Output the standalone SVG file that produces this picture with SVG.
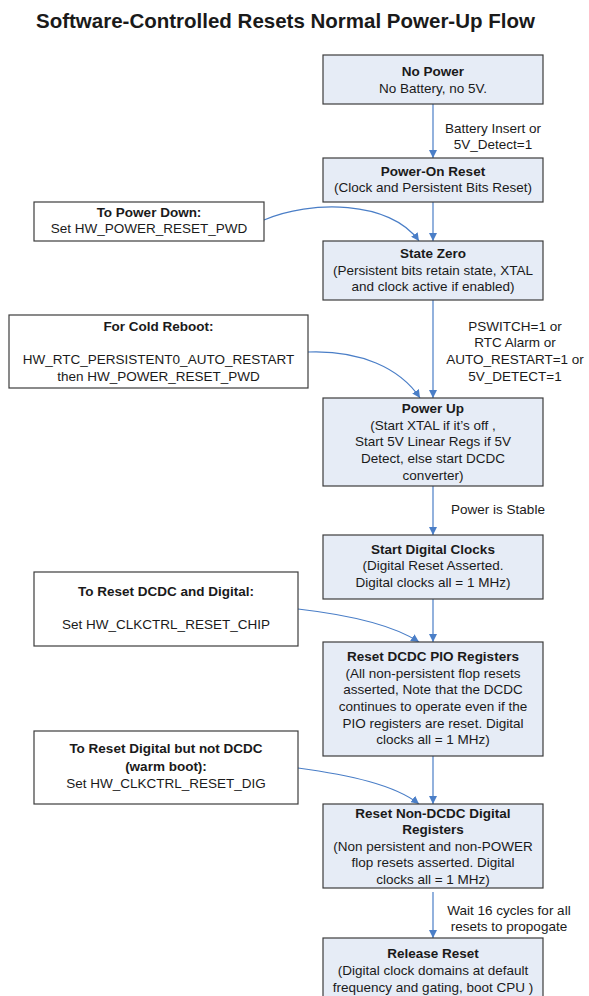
<svg xmlns="http://www.w3.org/2000/svg" width="589" height="996" viewBox="0 0 589 996">
<style>
text{font-family:"Liberation Sans",Arial,sans-serif;font-size:13.5px;fill:#1a1a1a}
.t{font-size:20.5px;font-weight:bold}
.b{font-weight:bold}
.m{text-anchor:middle}
.main{fill:#e6ecf6;stroke:#3c3c3c;stroke-width:1.2}
.side{fill:#ffffff;stroke:#3c3c3c;stroke-width:1.2}
.c{fill:none;stroke:#4a7ec7;stroke-width:1.2}
</style>
<defs>
<marker id="ah" viewBox="0 0 10 10" refX="10" refY="5" markerWidth="8" markerHeight="8" markerUnits="userSpaceOnUse" orient="auto">
<path d="M0,0 L10,5 L0,10 Z" fill="#4a7ec7"/>
</marker>
</defs>
<text class="t" x="36" y="28">Software-Controlled Resets Normal Power-Up Flow</text>
<g id="connectors">
<line class="c" x1="433" y1="104" x2="433" y2="158" marker-end="url(#ah)"/>
<line class="c" x1="433" y1="202" x2="433" y2="241" marker-end="url(#ah)"/>
<line class="c" x1="433" y1="300" x2="433" y2="398" marker-end="url(#ah)"/>
<line class="c" x1="433" y1="486" x2="433" y2="535" marker-end="url(#ah)"/>
<line class="c" x1="433" y1="599" x2="433" y2="642" marker-end="url(#ah)"/>
<line class="c" x1="433" y1="756" x2="433" y2="804" marker-end="url(#ah)"/>
<line class="c" x1="433" y1="892" x2="433" y2="938" marker-end="url(#ah)"/>
<path class="c" d="M264,220 C310,200 390,200 419,241" marker-end="url(#ah)"/>
<path class="c" d="M308,352 C360,350 400,368 420,398" marker-end="url(#ah)"/>
<path class="c" d="M298,609 C350,615 393,625 419,642" marker-end="url(#ah)"/>
<path class="c" d="M298,768 C350,775 395,785 419,804" marker-end="url(#ah)"/>
<text class="m" x="493" y="133">Battery Insert or</text>
<text class="m" x="493" y="149">5V_Detect=1</text>
<text class="m" x="515" y="331">PSWITCH=1 or</text>
<text class="m" x="515" y="347">RTC Alarm or</text>
<text class="m" x="515" y="364">AUTO_RESTART=1 or</text>
<text class="m" x="515" y="381">5V_DETECT=1</text>
<text class="m" x="498" y="514">Power is Stable</text>
<text class="m" x="509" y="915">Wait 16 cycles for all</text>
<text class="m" x="509" y="931">resets to propogate</text>
</g>
<g id="no-power">
<rect class="main" x="323" y="55" width="220" height="49"/>
<text class="m b" x="433" y="76">No Power</text>
<text class="m" x="433" y="93">No Battery, no 5V.</text>
</g>
<g id="power-on-reset">
<rect class="main" x="323" y="158" width="220" height="44"/>
<text class="m b" x="433" y="176">Power-On Reset</text>
<text class="m" x="433" y="192">(Clock and Persistent Bits Reset)</text>
</g>
<g id="to-power-down">
<rect class="side" x="34" y="202" width="230" height="39"/>
<text class="m b" x="149" y="217">To Power Down:</text>
<text class="m" x="149" y="233">Set HW_POWER_RESET_PWD</text>
</g>
<g id="state-zero">
<rect class="main" x="323" y="241" width="220" height="59"/>
<text class="m b" x="433" y="258">State Zero</text>
<text class="m" x="433" y="275">(Persistent bits retain state, XTAL</text>
<text class="m" x="433" y="291">and clock active if enabled)</text>
</g>
<g id="cold-reboot">
<rect class="side" x="9" y="315" width="299" height="73"/>
<text class="m b" x="158.5" y="331">For Cold Reboot:</text>
<text class="m" x="158.5" y="364">HW_RTC_PERSISTENT0_AUTO_RESTART</text>
<text class="m" x="158.5" y="381">then HW_POWER_RESET_PWD</text>
</g>
<g id="power-up">
<rect class="main" x="323" y="398" width="220" height="88"/>
<text class="m b" x="433" y="413">Power Up</text>
<text class="m" x="433" y="430">(Start XTAL if it’s off ,</text>
<text class="m" x="433" y="446">Start 5V Linear Regs if 5V</text>
<text class="m" x="433" y="463">Detect, else start DCDC</text>
<text class="m" x="433" y="480">converter)</text>
</g>
<g id="start-digital-clocks">
<rect class="main" x="323" y="535" width="220" height="64"/>
<text class="m b" x="433" y="554">Start Digital Clocks</text>
<text class="m" x="433" y="570">(Digital Reset Asserted.</text>
<text class="m" x="433" y="587">Digital clocks all = 1 MHz)</text>
</g>
<g id="reset-dcdc-digital">
<rect class="side" x="34" y="572" width="264" height="74"/>
<text class="m b" x="166" y="596">To Reset DCDC and Digital:</text>
<text class="m" x="166" y="629">Set HW_CLKCTRL_RESET_CHIP</text>
</g>
<g id="reset-dcdc-pio">
<rect class="main" x="323" y="642" width="220" height="114"/>
<text class="m b" x="433" y="661">Reset DCDC PIO Registers</text>
<text class="m" x="433" y="678">(All non-persistent flop resets</text>
<text class="m" x="433" y="694">asserted, Note that the DCDC</text>
<text class="m" x="433" y="711">continues to operate even if the</text>
<text class="m" x="433" y="728">PIO registers are reset. Digital</text>
<text class="m" x="433" y="744">clocks all = 1 MHz)</text>
</g>
<g id="reset-digital-warm">
<rect class="side" x="34" y="731" width="264" height="73"/>
<text class="m b" x="166" y="753">To Reset Digital but not DCDC</text>
<text class="m b" x="166" y="771">(warm boot):</text>
<text class="m" x="166" y="788">Set HW_CLKCTRL_RESET_DIG</text>
</g>
<g id="reset-non-dcdc">
<rect class="main" x="323" y="804" width="220" height="84"/>
<text class="m b" x="433" y="818">Reset Non-DCDC Digital</text>
<text class="m b" x="433" y="834">Registers</text>
<text class="m" x="433" y="851">(Non persistent and non-POWER</text>
<text class="m" x="433" y="867">flop resets asserted. Digital</text>
<text class="m" x="433" y="884">clocks all = 1 MHz)</text>
</g>
<g id="release-reset">
<rect class="main" x="323" y="938" width="220" height="80"/>
<text class="m b" x="433" y="958">Release Reset</text>
<text class="m" x="433" y="975">(Digital clock domains at default</text>
<text class="m" x="433" y="992">frequency and gating, boot CPU )</text>
</g>
</svg>
